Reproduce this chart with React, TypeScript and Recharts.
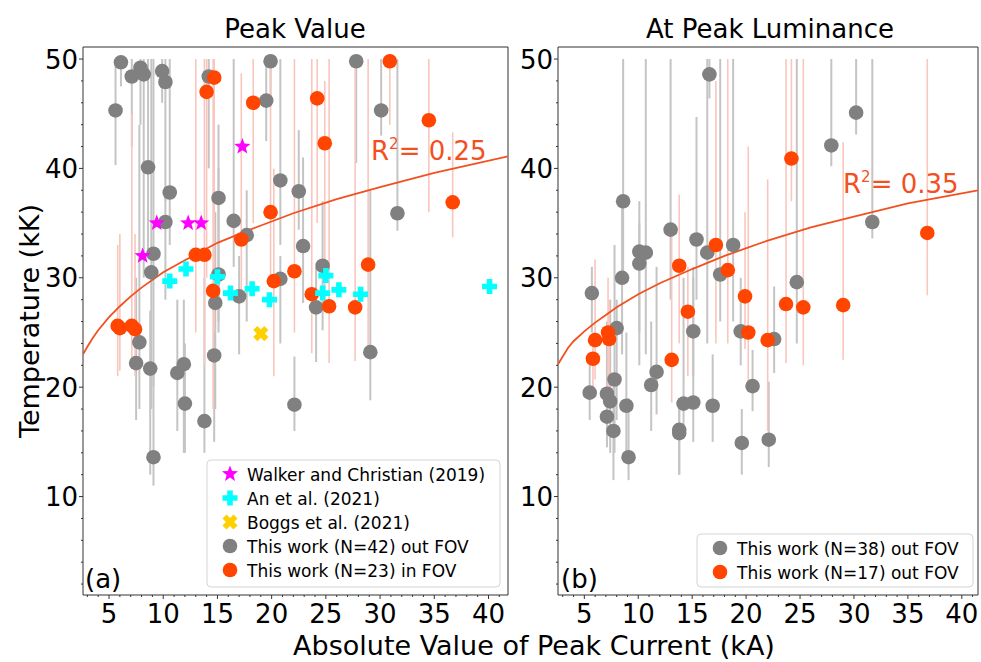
import React from 'react';
import { ScatterChart, Scatter, XAxis, YAxis, ErrorBar, ReferenceArea } from 'recharts';

const FONT = '"DejaVu Sans", Verdana, sans-serif';
const GRAY = '#808080';
const RED = '#ff4500';
const GRAY_BAR = '#c4c4c4';
const RED_BAR = '#f9c6bd';
const FIT = '#f3501f';

const X_DOMAIN_A: [number, number] = [2.6, 41.8];
const X_DOMAIN_B: [number, number] = [2.56, 41.5];
const Y_DOMAIN: [number, number] = [1, 51.1];
const X_TICKS = [3, 4, 5, 6, 7, 8, 9, 10, 11, 12, 13, 14, 15, 16, 17, 18, 19, 20, 21, 22, 23, 24, 25, 26, 27, 28, 29, 30, 31, 32, 33, 34, 35, 36, 37, 38, 39, 40, 41];
const Y_TICKS = [2, 4, 6, 8, 10, 12, 14, 16, 18, 20, 22, 24, 26, 28, 30, 32, 34, 36, 38, 40, 42, 44, 46, 48, 50];

// (a) peak value — this work, out of FOV
const grayAX = [6.1, 7.1, 7.9, 8.2, 9.9, 10.2, 5.6, 8.6, 10.6, 15.1, 10.2, 16.5, 14.2, 19.9, 19.5, 20.8, 17.7, 22.5, 27.8, 30.1, 31.6, 9.1, 8.9, 7.8, 7.5, 8.8, 11.3, 11.9, 12.0, 13.8, 9.1, 14.7, 15.1, 14.8, 17.0, 20.8, 22.1, 22.9, 24.7, 24.1, 29.1];
const grayAY = [49.7, 48.4, 49.2, 48.6, 48.9, 47.9, 45.3, 40.1, 37.8, 37.3, 35.1, 35.2, 48.4, 49.8, 46.2, 38.9, 33.9, 37.9, 49.8, 45.3, 35.9, 32.2, 30.5, 24.1, 22.2, 21.7, 21.3, 22.1, 18.5, 16.9, 13.6, 22.9, 30.3, 27.7, 28.3, 29.9, 18.4, 32.9, 31.1, 27.3, 23.2];
const grayALo = [47.5, 42, 44, 30, 46, 37, 40.3, 32, 33, 26, 28, 31, 40, 46, 42.5, 33, 26, 34.4, 40.5, 43, 34.3, 20, 18, 18, 17, 12, 16, 14, 14, 14, 11, 15, 25, 18, 23, 24, 16, 27.7, 25.2, 22.3, 18.8];
const grayAHi = [50, 50, 50, 50, 50, 50, 50, 50, 50, 44, 38, 50, 50, 50, 50, 50, 38, 43.5, 50, 50, 50, 50, 50, 44, 30, 27, 28, 28, 24, 30, 21.5, 33, 40, 36, 32, 32, 22.8, 41, 37, 31, 38];

// (a) peak value — this work, in FOV
const redAX = [14.7, 14.0, 18.3, 19.9, 17.2, 24.2, 24.9, 30.9, 34.5, 36.7, 6.0, 7.1, 7.4, 13.0, 13.8, 14.6, 20.2, 22.1, 28.9, 23.7, 25.3, 27.7, 5.8];
const redAY = [48.3, 47.0, 46.0, 36.0, 33.5, 46.4, 42.3, 49.8, 44.4, 36.9, 25.4, 25.6, 25.3, 32.1, 32.1, 28.8, 29.7, 30.6, 31.2, 28.5, 27.4, 27.3, 25.6];
const redALo = [25, 30, 35, 30, 28, 35, 27, 44, 36, 33.7, 21.5, 22, 21, 25, 22, 18, 21, 25, 23, 23.1, 22.2, 22.4, 21];
const redAHi = [50, 50, 50, 50, 48.7, 50, 48, 50, 50, 43.3, 34, 45, 34, 50, 50, 50, 40, 50, 50, 50, 50, 50, 33];

const walkerX = [17.3, 9.4, 12.3, 13.5, 8.1];
const walkerY = [42.0, 35.0, 35.0, 35.0, 32.0];
const anX = [10.6, 12.1, 15.0, 16.2, 18.2, 19.8, 25.0, 24.7, 26.2, 28.2, 40.1];
const anY = [29.7, 30.8, 30.1, 28.6, 29.0, 28.0, 30.2, 28.6, 28.9, 28.5, 29.2];
const boggsX = [19.0];
const boggsY = [24.9];

// fitted curves
const fitAX = [2.6, 3, 3.5, 4, 5, 6, 7, 8, 10, 12, 15, 18, 22, 26, 30, 35, 41.8];
const fitAY = [23.0, 23.7, 24.5, 25.2, 26.4, 27.4, 28.3, 29.1, 30.5, 31.6, 33.2, 34.4, 35.9, 37.2, 38.3, 39.6, 41.1];
const fitBX = [2.56, 3, 3.5, 4, 5, 6, 7, 8, 10, 12, 15, 18, 22, 26, 30, 35, 41.5];
const fitBY = [22.1, 22.8, 23.6, 24.2, 25.1, 25.9, 26.6, 27.3, 28.5, 29.5, 30.8, 32.0, 33.4, 34.6, 35.6, 36.8, 38.0];

// (b) at peak luminance
const grayBX = [8.6, 13.0, 15.4, 16.6, 18.8, 5.7, 5.5, 7.1, 7.4, 7.1, 7.7, 7.8, 8.0, 8.5, 8.9, 9.1, 10.1, 10.1, 10.7, 11.2, 11.7, 13.8, 13.8, 14.2, 15.1, 15.1, 16.4, 16.9, 17.6, 19.5, 19.6, 20.6, 24.7, 22.6, 22.1, 27.9, 30.2, 31.7];
const grayBY = [37.0, 34.4, 33.5, 48.6, 33.0, 28.6, 19.5, 19.4, 18.7, 17.3, 16.0, 20.7, 25.4, 30.0, 18.3, 13.6, 31.3, 32.4, 32.3, 20.2, 21.4, 16.1, 15.8, 18.5, 18.6, 25.1, 32.3, 18.3, 30.3, 25.1, 14.9, 20.1, 29.6, 24.4, 15.2, 42.1, 45.1, 35.1];
const grayBLo = [30, 28, 28, 46.4, 26, 25, 17, 16, 14, 14.5, 11.5, 14, 17, 23, 14, 11.5, 22, 25, 23, 16, 17.5, 12, 12, 16, 15, 21, 24, 15, 26, 22, 12, 17.8, 24, 21.3, 12.7, 40.2, 43.1, 33.6];
const grayBHi = [50, 50, 44.7, 50, 50, 31, 22, 26, 28, 20, 20, 33, 28, 37, 25, 19, 37, 35, 50, 26, 31, 19, 19, 30, 31, 30, 50, 23, 50, 30, 18, 23.4, 50, 29.2, 20.5, 50, 50, 50];

const redBX = [6.0, 5.8, 7.2, 7.3, 13.1, 13.8, 14.6, 17.2, 18.3, 19.9, 20.2, 22.0, 23.7, 25.3, 29.0, 36.8, 24.2];
const redBY = [24.3, 22.6, 25.0, 24.4, 22.5, 31.1, 26.9, 33.0, 30.7, 28.3, 25.0, 24.3, 27.6, 27.3, 27.5, 34.1, 40.9];
const redBLo = [20.7, 20, 19, 18, 18.6, 24, 21, 24, 24, 23.5, 20, 16, 22.2, 22, 22.5, 28.4, 37];
const redBHi = [31.7, 25, 30, 28, 34.5, 37.6, 31, 48, 50, 36, 42, 39, 50, 50, 42.4, 50, 50];

type Pt = { x: number; y: number; err?: [number, number] };

const pts = (xs: number[], ys: number[]): Pt[] => xs.map((x, i) => ({ x, y: ys[i] }));
const withErr = (xs: number[], ys: number[], lo: number[], hi: number[]): Pt[] =>
  xs.map((x, i) => ({ x, y: ys[i], err: [ys[i] - lo[i], hi[i] - ys[i]] }));

const grayA = withErr(grayAX, grayAY, grayALo, grayAHi);
const redA = withErr(redAX, redAY, redALo, redAHi);
const grayB = withErr(grayBX, grayBY, grayBLo, grayBHi);
const redB = withErr(redBX, redBY, redBLo, redBHi);

// marker shapes
const blank = () => <g />;
const dot = (fill: string) => (p: any) => <circle cx={p.cx} cy={p.cy} r={7.3} fill={fill} />;
const star = (p: any) => {
  const s: string[] = [];
  for (let i = 0; i < 10; i++) {
    const r = i % 2 === 0 ? 8.5 : 3.6;
    const a = -Math.PI / 2 + (i * Math.PI) / 5;
    s.push(`${p.cx + r * Math.cos(a)},${p.cy + r * Math.sin(a)}`);
  }
  return <polygon points={s.join(' ')} fill="#ff00ff" />;
};
const plusPath = (cx: number, cy: number, a: number, b: number) =>
  `M${cx - b},${cy - a}H${cx + b}V${cy - b}H${cx + a}V${cy + b}H${cx + b}V${cy + a}H${cx - b}V${cy + b}H${cx - a}V${cy - b}H${cx - b}Z`;
const plus = (p: any) => <path d={plusPath(p.cx, p.cy, 7.5, 2.8)} fill="#00ffff" />;
const cross = (p: any) => (
  <path d={plusPath(p.cx, p.cy, 7.8, 2.9)} fill="#ffd000" transform={`rotate(45 ${p.cx} ${p.cy})`} />
);

const xTick = (p: any) => {
  const major = p.payload.value % 5 === 0;
  return (
    <g>
      <line x1={p.x} x2={p.x} y1={p.y} y2={p.y + (major ? 4 : 2)} stroke="#333" />
      {major && (
        <text x={p.x} y={p.y + 28} textAnchor="middle" fontSize={26} fontFamily={FONT} fill="#000">
          {p.payload.value}
        </text>
      )}
    </g>
  );
};

const yTick = (p: any) => {
  const major = p.payload.value % 10 === 0;
  return (
    <g>
      <line x1={p.x - (major ? 4 : 2)} x2={p.x} y1={p.y} y2={p.y} stroke="#333" />
      {major && (
        <text x={p.x - 5} y={p.y + 9.5} textAnchor="end" fontSize={26} fontFamily={FONT} fill="#000">
          {p.payload.value}
        </text>
      )}
    </g>
  );
};

function axes(xDomain: [number, number]) {
  return [
    <XAxis
      key="x"
      type="number"
      dataKey="x"
      domain={xDomain}
      allowDataOverflow
      ticks={X_TICKS}
      interval={0}
      tick={xTick}
      tickSize={0}
      tickMargin={0}
      axisLine={false}
      tickLine={false}
      height={40}
    />,
    <YAxis
      key="y"
      type="number"
      dataKey="y"
      domain={Y_DOMAIN}
      allowDataOverflow
      ticks={Y_TICKS}
      interval={0}
      tick={yTick}
      tickSize={0}
      tickMargin={0}
      axisLine={false}
      tickLine={false}
      width={50}
    />,
    <ReferenceArea
      key="frame"
      x1={xDomain[0]}
      x2={xDomain[1]}
      y1={Y_DOMAIN[0]}
      y2={Y_DOMAIN[1]}
      fill="none"
      stroke="#333"
      strokeWidth={1}
      ifOverflow="visible"
    />,
  ];
}

function errorLayers(gray: Pt[], red: Pt[]) {
  return [
    <Scatter key="ge" data={gray} shape={blank} isAnimationActive={false}>
      <ErrorBar dataKey="err" direction="y" width={0} stroke={GRAY_BAR} strokeWidth={2} isAnimationActive={false} />
    </Scatter>,
    <Scatter key="re" data={red} shape={blank} isAnimationActive={false}>
      <ErrorBar dataKey="err" direction="y" width={0} stroke={RED_BAR} strokeWidth={1.6} isAnimationActive={false} />
    </Scatter>,
  ];
}

function fitLine(xs: number[], ys: number[]) {
  return (
    <Scatter
      key="fit"
      data={pts(xs, ys)}
      shape={blank}
      line={{ stroke: FIT, strokeWidth: 1.8 }}
      lineType="joint"
      isAnimationActive={false}
    />
  );
}

const legendA = [
  { shape: star, label: 'Walker and Christian (2019)' },
  { shape: plus, label: 'An et al. (2021)' },
  { shape: cross, label: 'Boggs et al. (2021)' },
  { shape: dot(GRAY), label: 'This work (N=42) out FOV' },
  { shape: dot(RED), label: 'This work (N=23) in FOV' },
];
const legendB = [
  { shape: dot(GRAY), label: 'This work (N=38) out FOV' },
  { shape: dot(RED), label: 'This work (N=17) out FOV' },
];

function Legend(props: { x: number; y: number; w: number; h: number; rows: typeof legendA }) {
  const { x, y, w, h, rows } = props;
  return (
    <g>
      <rect x={x} y={y} width={w} height={h} rx={4} fill="#fff" fillOpacity={0.85} stroke="#d4d4d4" />
      {rows.map((r, i) => {
        const cy = y + 14 + i * 24;
        return (
          <g key={r.label}>
            {r.shape({ cx: x + 23, cy })}
            <text x={x + 40} y={cy + 6.5} fontSize={17} fontFamily={FONT} fill="#000">
              {r.label}
            </text>
          </g>
        );
      })}
    </g>
  );
}

function R2(props: { x: number; y: number; value: string }) {
  return (
    <text x={props.x} y={props.y} fontSize={26} fontFamily={FONT} fill={FIT}>
      R
      <tspan dy={-11} fontSize={15}>2</tspan>
      <tspan dy={11}>= {props.value}</tspan>
    </text>
  );
}

export default function App() {
  return (
    <div style={{ position: 'absolute', left: 0, top: 0, width: 981, height: 662, background: '#fff', fontFamily: FONT }}>
      <div style={{ position: 'absolute', left: 0, top: 0 }}>
        <ScatterChart width={520} height={662} margin={{ top: 47, right: 12, bottom: 27, left: 33 }}>
          {axes(X_DOMAIN_A)}
          {errorLayers(grayA, redA)}
          {fitLine(fitAX, fitAY)}
          <Scatter data={grayA} shape={dot(GRAY)} isAnimationActive={false} />
          <Scatter data={redA} shape={dot(RED)} isAnimationActive={false} />
          <Scatter data={pts(walkerX, walkerY)} shape={star} isAnimationActive={false} />
          <Scatter data={pts(anX, anY)} shape={plus} isAnimationActive={false} />
          <Scatter data={pts(boggsX, boggsY)} shape={cross} isAnimationActive={false} />
        </ScatterChart>
      </div>
      <div style={{ position: 'absolute', left: 500, top: 0 }}>
        <ScatterChart width={481} height={662} margin={{ top: 47, right: 3, bottom: 27, left: 8 }}>
          {axes(X_DOMAIN_B)}
          {errorLayers(grayB, redB)}
          {fitLine(fitBX, fitBY)}
          <Scatter data={grayB} shape={dot(GRAY)} isAnimationActive={false} />
          <Scatter data={redB} shape={dot(RED)} isAnimationActive={false} />
        </ScatterChart>
      </div>
      <svg width={981} height={662} style={{ position: 'absolute', left: 0, top: 0, pointerEvents: 'none' }}>
        <text x={295} y={38} textAnchor="middle" fontSize={26} fontFamily={FONT}>Peak Value</text>
        <text x={770} y={38} textAnchor="middle" fontSize={26} fontFamily={FONT}>At Peak Luminance</text>
        <text x={534} y={655} textAnchor="middle" fontSize={27} fontFamily={FONT}>
          Absolute Value of Peak Current (kA)
        </text>
        <text transform="translate(39 321) rotate(-90)" textAnchor="middle" fontSize={27} fontFamily={FONT}>
          Temperature (kK)
        </text>
        <R2 x={371} y={160} value="0.25" />
        <R2 x={843} y={193} value="0.35" />
        <text x={85} y={588} fontSize={26} fontFamily={FONT}>(a)</text>
        <text x={561} y={588} fontSize={26} fontFamily={FONT}>(b)</text>
        <Legend x={207} y={460} w={293} h={127} rows={legendA} />
        <Legend x={697} y={534} w={276} h={53} rows={legendB} />
      </svg>
    </div>
  );
}
